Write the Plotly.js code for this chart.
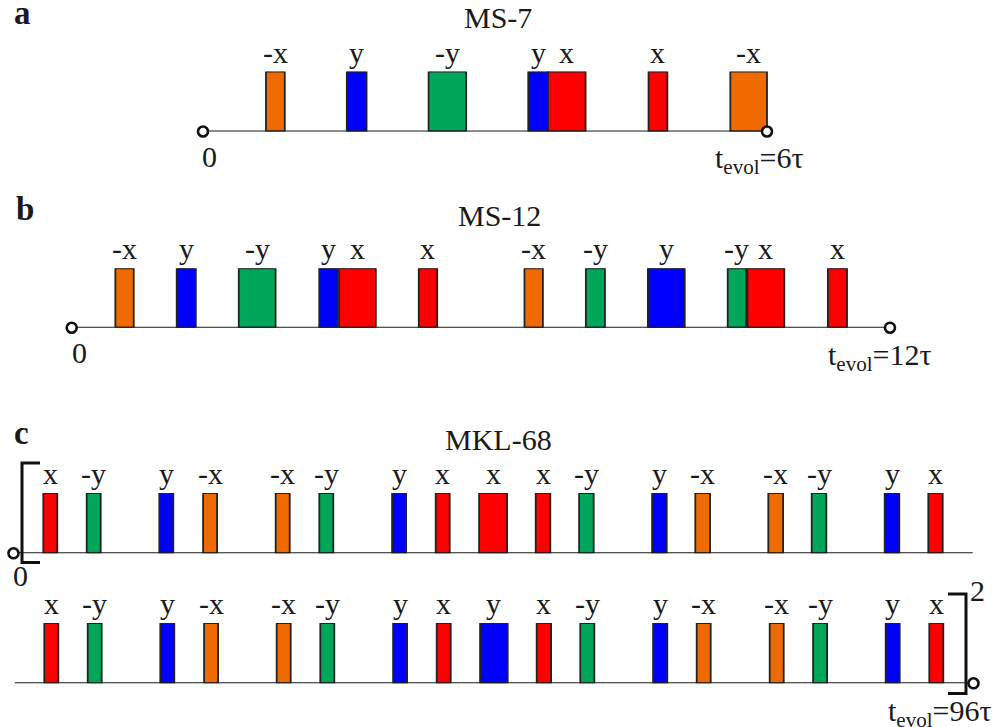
<!DOCTYPE html>
<html>
<head>
<meta charset="utf-8">
<script src="https://cdn.plot.ly/plotly-3.0.1.min.js"></script>
<style>html,body{margin:0;padding:0;background:#fff;}#chart{width:995px;height:727px;}</style>
</head>
<body>
<div id="chart"></div>
<script>
// ---------------- DATA (times in units of tau) ----------------
// a: MS-7, t_evol = 6 tau
const msA_phase = ['-x', 'y', '-y', 'y', 'x', 'x', '-x'];
const msA_start = [0.67, 1.53, 2.40, 3.46, 3.67, 4.74, 5.61];
const msA_end   = [0.87, 1.74, 2.80, 3.67, 4.07, 4.94, 6.00];
const msA_tevol = 6;

// b: MS-12, t_evol = 12 tau
const msB_phase = ['-x', 'y', '-y', 'y', 'x', 'x', '-x', '-y', 'y', '-y', 'x', 'x'];
const msB_start = [0.64, 1.54, 2.45, 3.63, 3.92, 5.09, 6.64, 7.54, 8.45, 9.62, 9.91, 11.09];
const msB_end   = [0.91, 1.82, 2.99, 3.90, 4.46, 5.36, 6.91, 7.82, 8.99, 9.89, 10.45, 11.37];
const msB_tevol = 12;

// c: MKL-68, t_evol = 96 tau (first half 0-48, second half 48-96)
const mklC1_phase = ['x', '-y', 'y', '-x', '-x', '-y', 'y', 'x', 'x', 'x', '-y', 'y', '-x', '-x', '-y', 'y', 'x'];
const mklC1_start = [1.49, 3.66, 7.29, 9.48, 13.11, 15.29, 18.93, 21.11, 23.28, 26.11, 28.28, 31.93, 34.09, 37.74, 39.91, 43.56, 45.74];
const mklC1_end   = [2.19, 4.36, 7.99, 10.18, 13.81, 15.99, 19.63, 21.81, 24.68, 26.84, 29.01, 32.66, 34.83, 38.48, 40.64, 44.29, 46.46];
const mklC2_phase = ['x', '-y', 'y', '-x', '-x', '-y', 'y', 'x', 'y', 'x', '-y', 'y', '-x', '-x', '-y', 'y', 'x'];
const mklC2_start = [49.54, 51.71, 55.34, 57.53, 61.16, 63.34, 66.98, 69.16, 71.33, 74.16, 76.34, 79.98, 82.16, 85.81, 87.98, 91.61, 93.79];
const mklC2_end   = [50.24, 52.41, 56.04, 58.23, 61.86, 64.04, 67.68, 69.86, 72.71, 74.88, 77.04, 80.69, 82.86, 86.51, 88.68, 92.31, 94.49];
const mkl_tevol = 96;
const mkl_half = 48;

const titles = ['MS-7', 'MS-12', 'MKL-68'];
const panelLetters = ['a', 'b', 'c'];

// ---------------- STYLE / LAYOUT ----------------
const W = 995, H = 727;
const phaseColor = {'x': '#ff0000', '-x': '#ef6a00', 'y': '#0000ff', '-y': '#00a65a'};
const SERIF = 'Liberation Serif, Times New Roman, serif';
const INK = '#1a1a1a';
const FS = 30;

// row geometry in pixels: origin px for t=offset, px per tau, baseline px, bar-top px
const rows = [
  {origin: 203,  scale: 94,    offset: 0,  base: 131.5, top: 71.5},
  {origin: 71.7, scale: 68.19, offset: 0,  base: 327.7, top: 268.3},
  {origin: 13.5, scale: 20,    offset: 0,  base: 553.3, top: 493},
  {origin: 13.5, scale: 20,    offset: 48, base: 683.3, top: 623}
];
const px = v => v / W;
const py = v => 1 - v / H;

const seqs = [
  {phase: msA_phase, start: msA_start, end: msA_end},
  {phase: msB_phase, start: msB_start, end: msB_end},
  {phase: mklC1_phase, start: mklC1_start, end: mklC1_end},
  {phase: mklC2_phase, start: mklC2_start, end: mklC2_end}
];
const lineSpans = [[0, msA_tevol], [0, msB_tevol], [0, mkl_half - 0.04], [mkl_half + 0.06, mkl_tevol]];
const circles = [[0, msA_tevol], [0, msB_tevol], [0], [mkl_tevol]];

const traces = [];
const layout = {
  width: W, height: H,
  margin: {l: 0, r: 0, t: 0, b: 0},
  paper_bgcolor: '#ffffff', plot_bgcolor: 'rgba(0,0,0,0)',
  showlegend: false, barmode: 'overlay', bargap: 0,
  annotations: [], shapes: []
};

rows.forEach((r, i) => {
  const xa = i === 0 ? 'x' : 'x' + (i + 1);
  const ya = i === 0 ? 'y' : 'y' + (i + 1);
  const xk = i === 0 ? 'xaxis' : 'xaxis' + (i + 1);
  const yk = i === 0 ? 'yaxis' : 'yaxis' + (i + 1);
  layout[xk] = {domain: [0, 1], range: [r.offset - r.origin / r.scale, r.offset + (W - r.origin) / r.scale],
    visible: false, fixedrange: true, anchor: ya};
  layout[yk] = {domain: [py(r.base), py(r.top)], range: [0, 1], visible: false, fixedrange: true, anchor: xa};

  // baseline
  traces.push({type: 'scatter', mode: 'lines', x: lineSpans[i], y: [0, 0], xaxis: xa, yaxis: ya,
    line: {color: INK, width: 2}, hoverinfo: 'skip', cliponaxis: false});

  const s = seqs[i];
  const centers = s.start.map((v, k) => (v + s.end[k]) / 2);
  const widths = s.start.map((v, k) => s.end[k] - v);
  traces.push({type: 'bar', x: centers, y: s.start.map(() => 1), width: widths, base: 0,
    xaxis: xa, yaxis: ya, cliponaxis: false,
    marker: {color: s.phase.map(p => phaseColor[p]), line: {color: '#222222', width: 1.8}},
    hoverinfo: 'skip'});

  s.phase.forEach((p, k) => {
    layout.annotations.push({xref: xa, yref: ya, x: centers[k], y: 1, text: p, showarrow: false,
      xanchor: 'center', yanchor: 'bottom', yshift: 1, font: {family: SERIF, size: FS, color: INK}});
  });

  // open circles marking start / end of evolution
  traces.push({type: 'scatter', mode: 'markers', x: circles[i], y: circles[i].map(() => 0), xaxis: xa, yaxis: ya,
    cliponaxis: false, hoverinfo: 'skip',
    marker: {symbol: 'circle', size: 10, color: '#ffffff', line: {color: '#111111', width: 2.6}}});
});

function textAt(xPx, basePx, text, opts) {
  opts = opts || {};
  const d = opts.d !== undefined ? opts.d : 7.5;
  layout.annotations.push({xref: 'paper', yref: 'paper', x: px(xPx), y: py(basePx + d), text: text,
    showarrow: false, xanchor: opts.xanchor || 'center', yanchor: 'bottom',
    font: {family: SERIF, size: opts.size || FS, color: INK, weight: opts.weight || 'normal'}});
}

// panel letters and titles
textAt(12, 26, panelLetters[0], {xanchor: 'left', size: 33, weight: 'bold'});
textAt(14, 221.7, panelLetters[1], {xanchor: 'left', size: 33, weight: 'bold'});
textAt(12, 445, panelLetters[2], {xanchor: 'left', size: 33, weight: 'bold'});
textAt(498, 29, titles[0]);
textAt(499, 226, titles[1]);
textAt(498, 451, titles[2]);

// start labels
textAt(209, 167.7, '0');
textAt(79, 363.3, '0');
textAt(20, 586, '0');
textAt(977, 601.7, '2');

// end labels
textAt(713, 166.7, 't<sub>evol</sub>=' + msA_tevol + 'τ', {xanchor: 'left', d: 14.5});
textAt(826, 363.3, 't<sub>evol</sub>=' + msB_tevol + 'τ', {xanchor: 'left', d: 14.5});
textAt(886, 719, 't<sub>evol</sub>=' + mkl_tevol + 'τ', {xanchor: 'left', d: 14.5});

// brackets for the two-line MKL-68 sequence
function bracket(pts) {
  const d = pts.map((p, k) => (k ? 'L ' : 'M ') + px(p[0]).toFixed(5) + ',' + py(p[1]).toFixed(5)).join(' ');
  layout.shapes.push({type: 'path', xref: 'paper', yref: 'paper', path: d, line: {color: '#111111', width: 3}});
}
bracket([[40, 463], [22, 463], [22, 562.5], [40, 562.5]]);
bracket([[948, 594], [966, 594], [966, 693.5], [948, 693.5]]);

Plotly.newPlot('chart', traces, layout, {displayModeBar: false, staticPlot: true});
</script>
</body>
</html>
